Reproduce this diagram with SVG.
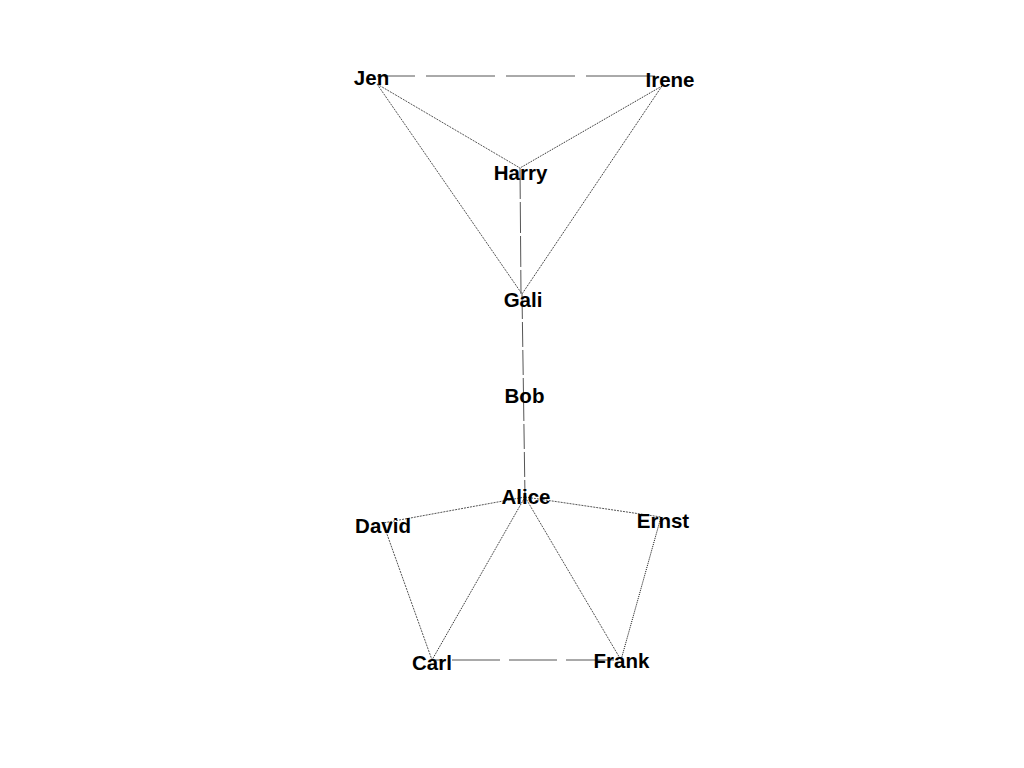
<svg xmlns="http://www.w3.org/2000/svg" width="1024" height="768" viewBox="0 0 1024 768">
<style>
.bg{fill:#ffffff}
.lbl{font-family:"Liberation Sans",Arial,sans-serif;font-weight:bold;font-size:20.5px;fill:#000;text-anchor:middle}
.e{fill:none;stroke-width:1}
.long{stroke:#555555}
.dg{stroke:#555555;stroke-dasharray:2,1}
.dk{stroke:#111111;stroke-dasharray:1,1}
</style>
<rect class="bg" x="0" y="0" width="1024" height="768"/>
<g id="edges">
<line class="e long" x1="377" y1="76" x2="662" y2="76" stroke-dasharray="69,11" stroke-dashoffset="31"/>
<line class="e dg" x1="377" y1="84" x2="520" y2="168"/>
<line class="e dg" x1="377" y1="84" x2="522" y2="294"/>
<line class="e dk" x1="662" y1="86" x2="520" y2="168"/>
<line class="e dk" x1="662" y1="86" x2="522" y2="294"/>
<line class="e long" x1="520" y1="168" x2="521" y2="294" stroke-dasharray="31,3"/>
<line class="e long" x1="522" y1="294" x2="523.5" y2="396" stroke-dasharray="25,3"/>
<line class="e long" x1="523.5" y1="396" x2="525" y2="497" stroke-dasharray="25,3"/>
<line class="e dg" x1="525" y1="497" x2="383" y2="523"/>
<line class="e dg" x1="525" y1="497" x2="661" y2="517"/>
<line class="e dk" x1="525" y1="497" x2="432" y2="660"/>
<line class="e dg" x1="525" y1="497" x2="621" y2="660"/>
<line class="e dg" x1="383" y1="523" x2="432" y2="660"/>
<line class="e dk" x1="661" y1="517" x2="621" y2="660"/>
<line class="e long" x1="432" y1="660" x2="621" y2="660" stroke-dasharray="48,9" stroke-dashoffset="-20"/>
</g>
<g id="node-jen"><text class="lbl" x="371.5" y="85">Jen</text></g>
<g id="node-irene"><text class="lbl" x="670" y="87">Irene</text></g>
<g id="node-harry"><text class="lbl" x="520.5" y="180">Harry</text></g>
<g id="node-gali"><text class="lbl" x="523" y="307">Gali</text></g>
<g id="node-bob"><text class="lbl" x="524.5" y="403">Bob</text></g>
<g id="node-alice"><text class="lbl" x="526" y="504">Alice</text></g>
<g id="node-david"><text class="lbl" x="383" y="533">David</text></g>
<g id="node-ernst"><text class="lbl" x="663" y="528">Ernst</text></g>
<g id="node-carl"><text class="lbl" x="432" y="670">Carl</text></g>
<g id="node-frank"><text class="lbl" x="621.5" y="668">Frank</text></g>
</svg>
